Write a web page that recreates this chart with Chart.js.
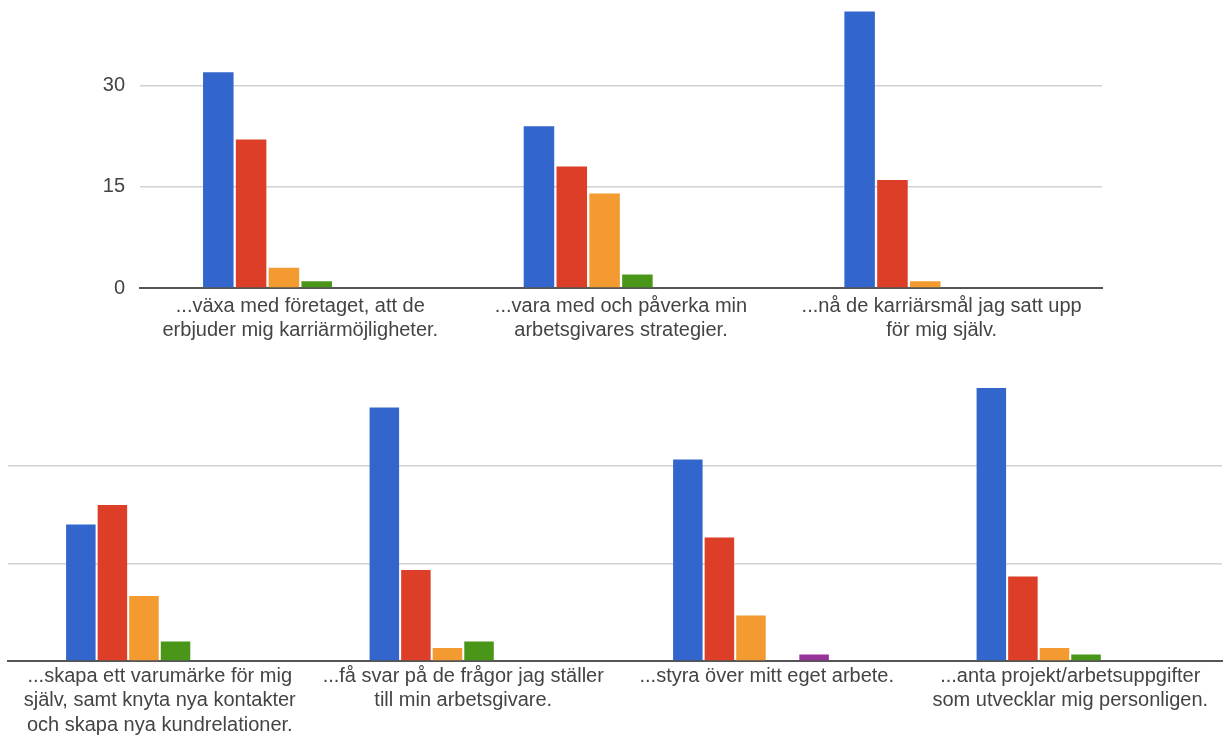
<!DOCTYPE html>
<html lang="sv">
<head>
<meta charset="utf-8">
<script src="https://cdn.jsdelivr.net/npm/chart.js@4.4.1/dist/chart.umd.min.js"></script>
<style>
  html, body { margin: 0; padding: 0; background: #ffffff; }
  body { width: 1225px; height: 735px; position: relative; overflow: hidden; }
  canvas { position: absolute; left: 0; }
  #upper { top: 0; }
  #lower { top: 360px; }
</style>
</head>
<body>
<canvas id="upper" width="1225" height="355"></canvas>
<canvas id="lower" width="1225" height="375"></canvas>
<script>
// Statements (each one split into display lines)
const statements = [
  ["...växa med företaget, att de", "erbjuder mig karriärmöjligheter."],
  ["...vara med och påverka min", "arbetsgivares strategier."],
  ["...nå de karriärsmål jag satt upp", "för mig själv."],
  ["...skapa ett varumärke för mig", "själv, samt knyta nya kontakter", "och skapa nya kundrelationer."],
  ["...få svar på de frågor jag ställer", "till min arbetsgivare."],
  ["...styra över mitt eget arbete."],
  ["...anta projekt/arbetsuppgifter", "som utvecklar mig personligen."]
];

// Number of answers per response alternative, one value per statement
const svar1 = [32, 24, 41, 21, 39, 31, 42];
const svar2 = [22, 18, 16, 24, 14, 19, 13];
const svar3 = [3, 14, 1, 10, 2, 7, 2];
const svar4 = [1, 2, 0, 3, 3, 0, 1];
const svar5 = [0, 0, 0, 0, 0, 1, 0];
const svar6 = [0, 0, 0, 0, 0, 0, 0];

const seriesNames = ["Svar 1", "Svar 2", "Svar 3", "Svar 4", "Svar 5", "Svar 6"];
const seriesColors = ["#3366cc", "#dc3e27", "#f39a31", "#4a9619", "#983399", "#0099c6"];

// Value axis ticks (gridlines)
const yTickValues = [0, 15, 30];

const allSeries = [svar1, svar2, svar3, svar4, svar5, svar6];

const FONT = '"Liberation Sans", Arial, Helvetica, sans-serif';
const TEXT = '#444444';

function buildPanel(canvasId, from, to, cfg) {
  const datasets = allSeries.map((values, i) => ({
    label: seriesNames[i],
    data: values.slice(from, to),
    backgroundColor: seriesColors[i],
    borderWidth: 0,
    categoryPercentage: cfg.categoryPercentage,
    barPercentage: cfg.barPercentage
  }));

  return new Chart(document.getElementById(canvasId), {
    type: 'bar',
    data: { labels: statements.slice(from, to), datasets },
    options: {
      responsive: false,
      animation: false,
      events: [],
      layout: { padding: { left: 0, right: cfg.rightPad, top: 0, bottom: 0 } },
      plugins: { legend: { display: false }, tooltip: { enabled: false } },
      scales: {
        x: {
          grid: { display: false, drawTicks: false },
          border: { display: true, color: '#555555', width: 2 },
          ticks: {
            autoSkip: false,
            maxRotation: 0,
            minRotation: 0,
            padding: cfg.labelPad,
            color: TEXT,
            font: { family: FONT, size: 20, lineHeight: 1.22 }
          },
          afterFit(scale) {
            scale.height = cfg.xHeight;
            scale.paddingLeft = 0;
            scale.paddingRight = 0;
          }
        },
        y: {
          min: 0,
          max: cfg.yMax,
          grid: { color: '#d2d2d2', lineWidth: 1.5, drawTicks: false },
          border: { display: false },
          ticks: {
            display: cfg.showYLabels,
            padding: 15,
            color: TEXT,
            font: { family: FONT, size: 20 }
          },
          afterBuildTicks(scale) {
            scale.ticks = yTickValues.map(v => ({ value: v }));
          },
          afterFit(scale) {
            scale.width = cfg.yWidth;
            scale.paddingTop = 0;
            scale.paddingBottom = 0;
          }
        }
      }
    }
  });
}

// Upper panel: first three statements, with value labels
buildPanel('upper', 0, 3, {
  yMax: 42.7, yWidth: 140, rightPad: 123, xHeight: 67, labelPad: 6,
  showYLabels: true, categoryPercentage: 0.614, barPercentage: 0.93
});

// Lower panel: remaining four statements, gridlines only
buildPanel('lower', 3, 7, {
  yMax: 46.3, yWidth: 8, rightPad: 3, xHeight: 74, labelPad: 3,
  showYLabels: false, categoryPercentage: 0.624, barPercentage: 0.935
});
</script>
</body>
</html>
